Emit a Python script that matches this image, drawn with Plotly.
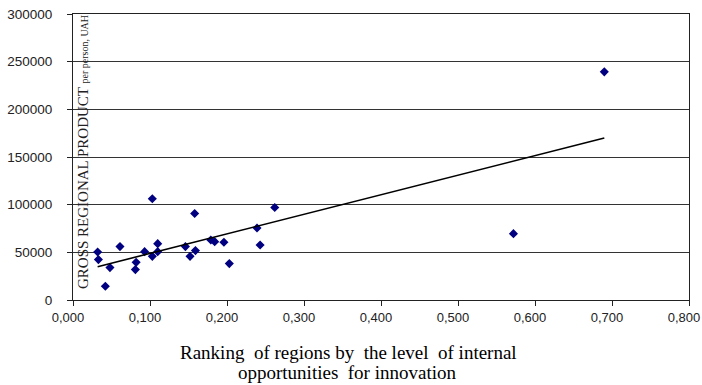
import numpy as np
import plotly.graph_objects as go

# Ranking of regions by the level of internal opportunities for innovation
ranking = [0.032, 0.033, 0.048, 0.042, 0.061, 0.082, 0.081, 0.093, 0.103, 0.103,
           0.110, 0.110, 0.146, 0.152, 0.158, 0.159, 0.179, 0.184, 0.196, 0.203,
           0.239, 0.243, 0.262, 0.572, 0.690]
# Gross regional product per person, UAH
grp = [50400, 42400, 34000, 14400, 56000, 39500, 31900, 50700, 106200, 45800,
       59100, 50700, 56000, 45800, 90800, 51800, 63000, 61200, 60500, 38200,
       75500, 57700, 97100, 69600, 239300]

x_ticks = [0.0, 0.1, 0.2, 0.3, 0.4, 0.5, 0.6, 0.7, 0.8]
x_tick_labels = ["0,000", "0,100", "0,200", "0,300", "0,400", "0,500", "0,600", "0,700", "0,800"]
y_ticks = [0, 50000, 100000, 150000, 200000, 250000, 300000]

xa = np.array(ranking)
ya = np.array(grp)
slope, intercept = np.polyfit(xa, ya, 1)
tx = np.array([xa.min(), xa.max()])
ty = slope * tx + intercept

fig = go.Figure()
fig.add_trace(go.Scatter(x=ranking, y=grp, mode="markers",
                         marker=dict(symbol="diamond", size=7, color="#000080"),
                         showlegend=False, cliponaxis=False))
fig.add_trace(go.Scatter(x=tx, y=ty, mode="lines",
                         line=dict(color="black", width=1.6), showlegend=False))

serif = "Liberation Serif, Times New Roman"
fig.update_layout(
    width=702, height=385,
    margin=dict(l=73, r=13, t=14, b=85),
    paper_bgcolor="white", plot_bgcolor="white",
    font=dict(family="Liberation Sans, Arial", color="black"),
    xaxis=dict(range=[0, 0.8], tickvals=x_ticks, ticktext=x_tick_labels,
               automargin=False, ticklabeloverflow="allow", ticklabelshift=-5,
               showgrid=False, zeroline=False, showline=True, linecolor="#222",
               linewidth=1, mirror=True, ticks="outside", ticklen=5, tickcolor="#222",
               tickfont=dict(size=13, family="Liberation Sans, Arial", color="#222")),
    yaxis=dict(range=[0, 300000], tickvals=y_ticks, ticktext=[str(v) for v in y_ticks],
               automargin=False, ticklabeloverflow="allow", ticklabelstandoff=12,
               showgrid=True, gridcolor="#333", gridwidth=1, zeroline=False,
               showline=True, linecolor="#222", linewidth=1, mirror=True,
               ticks="outside", ticklen=5, tickcolor="#222",
               tickfont=dict(size=13.5, family="Liberation Sans, Arial", color="#222")),
    annotations=[
        dict(xref="paper", yref="paper", x=0.016, y=0.517, xanchor="center", yanchor="middle",
             textangle=-90, showarrow=False,
             text="GROSS REGIONAL PRODUCT <span style='font-size:10px'>per person, UAH</span>",
             font=dict(family=serif, size=15, color="#222")),
        dict(xref="paper", yref="paper", x=0.448, y=-0.184, xanchor="center", yanchor="middle",
             showarrow=False,
             text="Ranking  of regions by  the level  of internal",
             font=dict(family=serif, size=19, color="black")),
        dict(xref="paper", yref="paper", x=0.444, y=-0.254, xanchor="center", yanchor="middle",
             showarrow=False,
             text="opportunities  for innovation",
             font=dict(family=serif, size=19, color="black")),
    ],
)

fig.write_html("out.html", config={"displayModeBar": False},
               post_script="document.body.style.margin='0px';")
